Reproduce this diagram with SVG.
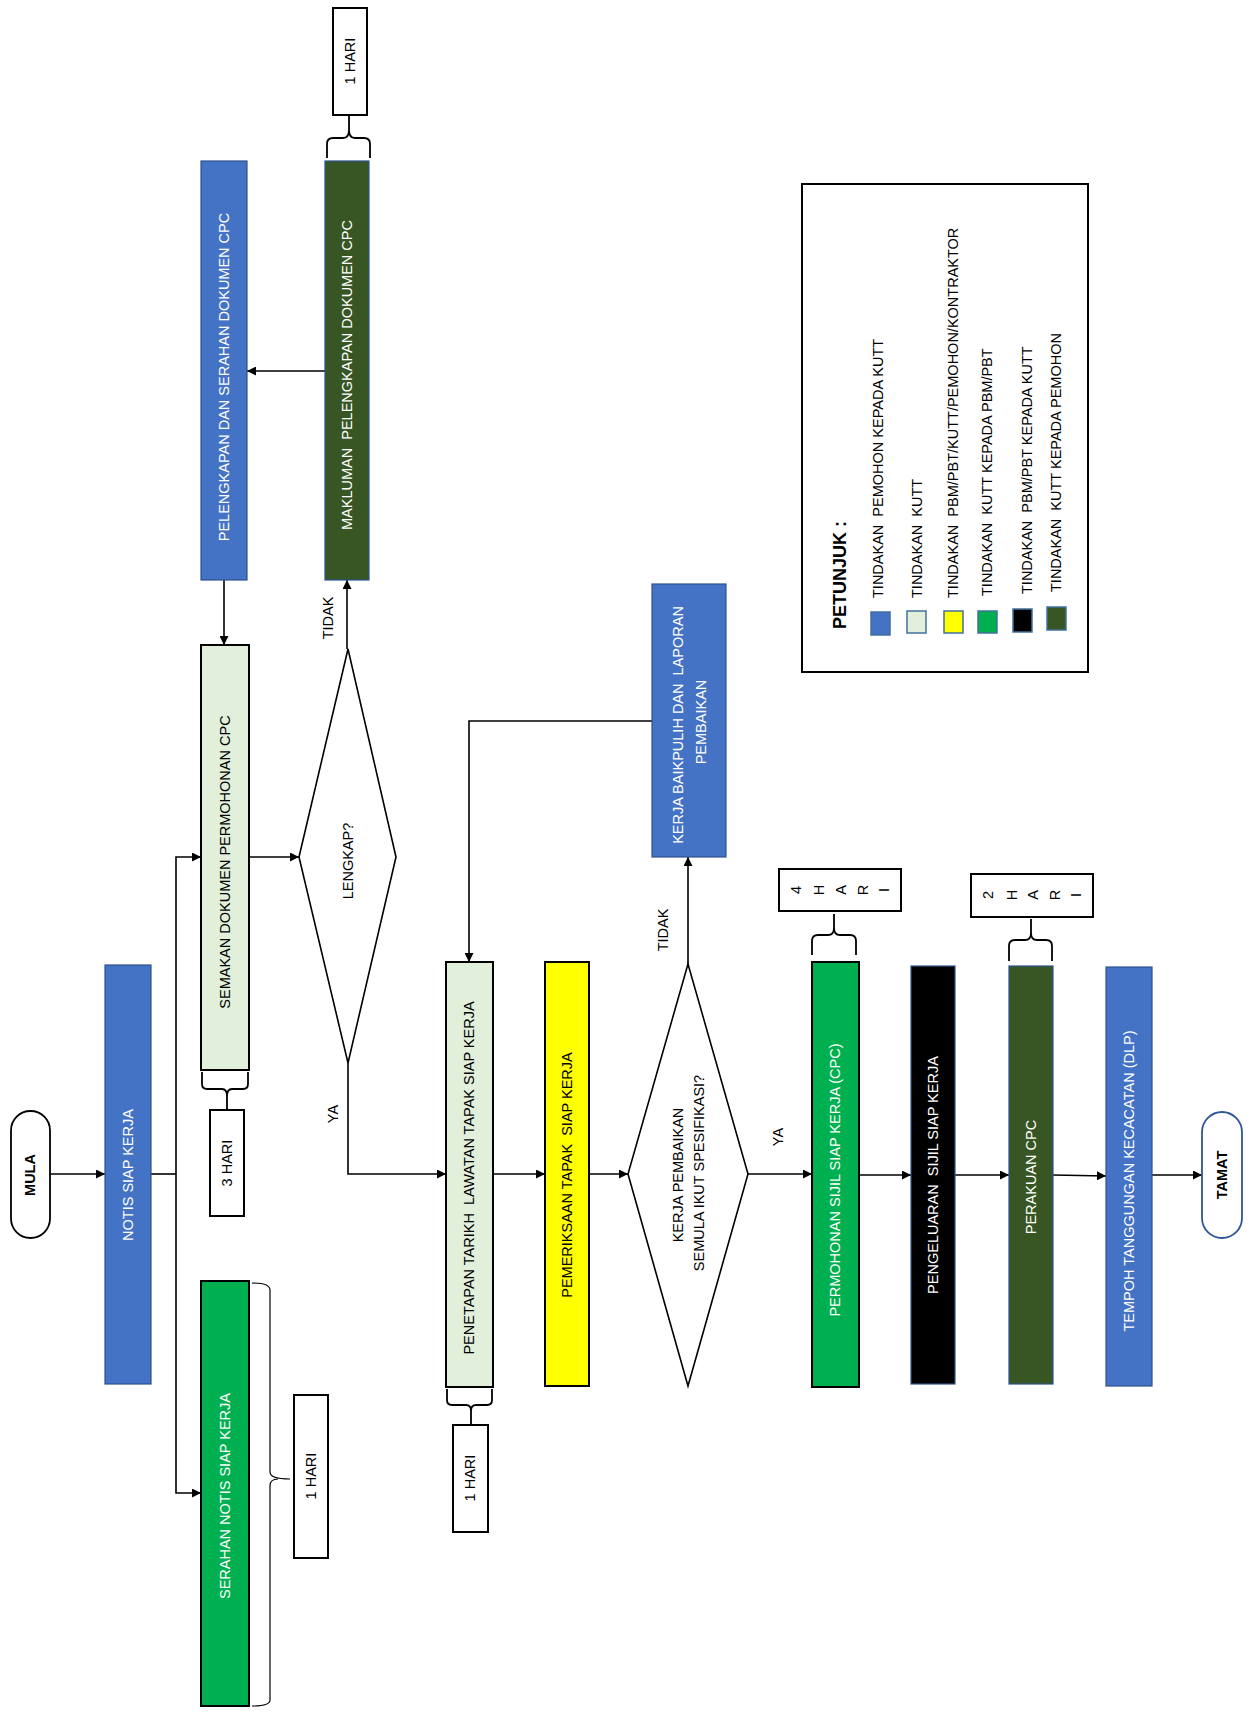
<svg xmlns="http://www.w3.org/2000/svg" width="1251" height="1716" viewBox="0 0 1251 1716">
<style>
text{font-family:"Liberation Sans",Arial,sans-serif;font-size:14.5px;white-space:pre;text-anchor:middle;dominant-baseline:central}
.w{fill:#ffffff}
.k{fill:#000000}
.b{font-weight:bold}
.blue{fill:#4472C4;stroke:#2F528F;stroke-width:1.2}
.dg{fill:#375623;stroke:#2F528F;stroke-width:1.2}
.blk{fill:#000000;stroke:#2F528F;stroke-width:1.2}
.lg{fill:#E2EFDA;stroke:#000;stroke-width:2}
.gr{fill:#00B050;stroke:#000;stroke-width:2}
.ye{fill:#FFFF00;stroke:#000;stroke-width:2}
.day{fill:#fff;stroke:#000;stroke-width:2}
.dia{fill:#fff;stroke:#000;stroke-width:1.6}
.br{fill:none;stroke:#000;stroke-width:1.8}
.cn{fill:none;stroke:#000;stroke-width:1.6}
.sw{stroke:#41719C;stroke-width:1.5}
</style>
<defs>
<marker id="ah" viewBox="0 0 10 10" refX="10" refY="5" markerWidth="10" markerHeight="9" markerUnits="userSpaceOnUse" orient="auto">
<path d="M0,0 L10,5 L0,10 z" fill="#000"/>
</marker>
</defs>

<g id="connectors">
<path class="cn" d="M50,1174 L105,1174" marker-end="url(#ah)"/>
<path class="cn" d="M151,1174 L176,1174"/>
<path class="cn" d="M176,1174 L176,857 L201,857" marker-end="url(#ah)"/>
<path class="cn" d="M176,1174 L176,1493 L201,1493" marker-end="url(#ah)"/>
<path class="cn" d="M249,857 L299,857" marker-end="url(#ah)"/>
<path class="cn" d="M347,649 L347,580" marker-end="url(#ah)"/>
<path class="cn" d="M325,371 L247,371" marker-end="url(#ah)"/>
<path class="cn" d="M224,580 L224,645" marker-end="url(#ah)"/>
<path class="cn" d="M348,1063 L348,1174 L446,1174" marker-end="url(#ah)"/>
<path class="cn" d="M493,1174 L545,1174" marker-end="url(#ah)"/>
<path class="cn" d="M589,1174 L628,1174" marker-end="url(#ah)"/>
<path class="cn" d="M688,964 L688,857" marker-end="url(#ah)"/>
<path class="cn" d="M652,721 L469,721 L469,962" marker-end="url(#ah)"/>
<path class="cn" d="M748,1174 L812,1174" marker-end="url(#ah)"/>
<path class="cn" d="M859,1175 L911,1175" marker-end="url(#ah)"/>
<path class="cn" d="M955,1175 L1009,1175" marker-end="url(#ah)"/>
<path class="cn" d="M1053,1175 L1106,1176" marker-end="url(#ah)"/>
<path class="cn" d="M1152,1175 L1202,1175" marker-end="url(#ah)"/>
<text class="k" x="328" y="618" transform="rotate(-90 328 618)">TIDAK</text>
<text class="k" x="333" y="1114" transform="rotate(-90 333 1114)">YA</text>
<text class="k" x="663" y="930" transform="rotate(-90 663 930)">TIDAK</text>
<text class="k" x="778" y="1137" transform="rotate(-90 778 1137)">YA</text>
</g>

<g id="mula">
<rect x="11" y="1111" width="39" height="127" rx="19.5" fill="#fff" stroke="#000" stroke-width="1.8"/>
<text class="k b" x="30" y="1175" transform="rotate(-90 30 1175)">MULA</text>
</g>

<g id="notis">
<rect class="blue" x="105" y="965" width="46" height="419"/>
<text class="w" x="128" y="1175" transform="rotate(-90 128 1175)">NOTIS SIAP KERJA</text>
</g>

<g id="semakan">
<rect class="lg" x="201" y="645" width="48" height="425"/>
<text class="k" x="225" y="862" transform="rotate(-90 225 862)">SEMAKAN DOKUMEN PERMOHONAN CPC</text>
<path class="br" d="M202,1072 L202,1084 Q202,1089 207,1089 L222,1089 Q227,1089 227,1096 L227,1110 M248,1072 L248,1084 Q248,1089 243,1089 L232,1089 Q227,1089 227,1096"/>
</g>

<g id="hari3">
<rect class="day" x="210" y="1110" width="34" height="106"/>
<text class="k" x="227" y="1163" transform="rotate(-90 227 1163)">3 HARI</text>
</g>

<g id="serahan">
<rect class="gr" x="201" y="1281" width="48" height="425"/>
<text class="w" x="225" y="1496" transform="rotate(-90 225 1496)">SERAHAN NOTIS SIAP KERJA</text>
<path fill="none" stroke="#000" stroke-width="1.2" d="M252,1283 Q270,1283 270,1290 L270,1472 Q270,1479 290,1479 M270,1486 Q270,1479 278,1479 M270,1486 L270,1700 Q270,1706 252,1706"/>
</g>

<g id="hari1a">
<rect class="day" x="294" y="1395" width="34" height="163"/>
<text class="k" x="311" y="1476" transform="rotate(-90 311 1476)">1 HARI</text>
</g>

<g id="lengkap">
<polygon class="dia" points="348,649 396,857 348,1063 299,857"/>
<text class="k" x="348" y="861" transform="rotate(-90 348 861)">LENGKAP?</text>
</g>

<g id="pelengkapan">
<rect class="blue" x="201" y="161" width="46" height="419"/>
<text class="w" x="224" y="377" transform="rotate(-90 224 377)">PELENGKAPAN DAN SERAHAN DOKUMEN CPC</text>
</g>

<g id="makluman">
<rect class="dg" x="325" y="161" width="44" height="419"/>
<text class="w" x="347" y="375" transform="rotate(-90 347 375)">MAKLUMAN  PELENGKAPAN DOKUMEN CPC</text>
<path class="br" d="M327,158 L327,144 Q327,138 333,138 L343,138 Q349,138 349,130 L349,116 M370,158 L370,144 Q370,138 364,138 L355,138 Q349,138 349,130"/>
</g>

<g id="hari1b">
<rect class="day" x="333" y="8" width="34" height="107"/>
<text class="k" x="350" y="61" transform="rotate(-90 350 61)">1 HARI</text>
</g>

<g id="penetapan">
<rect class="lg" x="446" y="962" width="47" height="425"/>
<text class="k" x="469" y="1178" transform="rotate(-90 469 1178)">PENETAPAN TARIKH  LAWATAN TAPAK SIAP KERJA</text>
<path class="br" d="M447,1389 L447,1400 Q447,1405 452,1405 L466,1405 Q471,1405 471,1411 L471,1425 M492,1389 L492,1400 Q492,1405 487,1405 L476,1405 Q471,1405 471,1411"/>
</g>

<g id="hari1c">
<rect class="day" x="453" y="1425" width="35" height="107"/>
<text class="k" x="470" y="1478" transform="rotate(-90 470 1478)">1 HARI</text>
</g>

<g id="pemeriksaan">
<rect class="ye" x="545" y="962" width="44" height="424"/>
<text class="k" x="567" y="1175" transform="rotate(-90 567 1175)">PEMERIKSAAN TAPAK  SIAP KERJA</text>
</g>

<g id="kerja-pembaikan">
<polygon class="dia" points="688,964 748,1174 688,1386 628,1174"/>
<text class="k" x="678" y="1175" transform="rotate(-90 678 1175)">KERJA PEMBAIKAN</text>
<text class="k" x="699" y="1173" transform="rotate(-90 699 1173)">SEMULA IKUT SPESIFIKASI?</text>
</g>

<g id="baikpulih">
<rect class="blue" x="652" y="584" width="74" height="273"/>
<text class="w" x="678" y="725" transform="rotate(-90 678 725)">KERJA BAIKPULIH DAN  LAPORAN</text>
<text class="w" x="701" y="722" transform="rotate(-90 701 722)">PEMBAIKAN</text>
</g>

<g id="permohonan">
<rect class="gr" x="812" y="962" width="47" height="425"/>
<text class="w" x="835" y="1180" transform="rotate(-90 835 1180)">PERMOHONAN SIJIL SIAP KERJA (CPC)</text>
<path class="br" d="M812,955 L812,941 Q812,935 818,935 L828,935 Q834,935 834,928 L834,914 M856,955 L856,941 Q856,935 850,935 L840,935 Q834,935 834,928"/>
</g>

<g id="hari4">
<rect class="day" x="779" y="869" width="122" height="42"/>
<text class="k" x="796" y="890" transform="rotate(-90 796 890)">4</text>
<text class="k" x="819" y="890" transform="rotate(-90 819 890)">H</text>
<text class="k" x="841" y="890" transform="rotate(-90 841 890)">A</text>
<text class="k" x="863" y="890" transform="rotate(-90 863 890)">R</text>
<text class="k" x="884" y="890" transform="rotate(-90 884 890)">I</text>
</g>

<g id="pengeluaran">
<rect class="blk" x="911" y="966" width="44" height="418"/>
<text class="w" x="933" y="1175" transform="rotate(-90 933 1175)">PENGELUARAN  SIJIL SIAP KERJA</text>
</g>

<g id="perakuan">
<rect class="dg" x="1009" y="966" width="44" height="418"/>
<text class="w" x="1031" y="1177" transform="rotate(-90 1031 1177)">PERAKUAN CPC</text>
<path class="br" d="M1009,961 L1009,946 Q1009,940 1015,940 L1025,940 Q1031,940 1031,933 L1031,919 M1052,961 L1052,946 Q1052,940 1046,940 L1037,940 Q1031,940 1031,933"/>
</g>

<g id="hari2">
<rect class="day" x="971" y="874" width="122" height="43"/>
<text class="k" x="988" y="895" transform="rotate(-90 988 895)">2</text>
<text class="k" x="1012" y="895" transform="rotate(-90 1012 895)">H</text>
<text class="k" x="1033" y="895" transform="rotate(-90 1033 895)">A</text>
<text class="k" x="1055" y="895" transform="rotate(-90 1055 895)">R</text>
<text class="k" x="1076" y="895" transform="rotate(-90 1076 895)">I</text>
</g>

<g id="tempoh">
<rect class="blue" x="1106" y="967" width="46" height="419"/>
<text class="w" x="1129" y="1181" transform="rotate(-90 1129 1181)">TEMPOH TANGGUNGAN KECACATAN (DLP)</text>
</g>

<g id="tamat">
<rect x="1202" y="1112" width="40" height="126" rx="20" fill="#fff" stroke="#2F5597" stroke-width="1.8"/>
<text class="k b" x="1222" y="1175" transform="rotate(-90 1222 1175)">TAMAT</text>
</g>

<g id="legend">
<rect x="802" y="184" width="286" height="488" fill="#fff" stroke="#000" stroke-width="2"/>
<text class="k b" x="840" y="575" style="font-size:18px" transform="rotate(-90 840 575)">PETUNJUK :</text>
<rect class="sw" x="871" y="612" width="19" height="23" fill="#4472C4"/>
<rect class="sw" x="907" y="611" width="19" height="22" fill="#E2EFDA"/>
<rect class="sw" x="944" y="611" width="19" height="22" fill="#FFFF00"/>
<rect class="sw" x="978" y="611" width="19" height="22" fill="#00B050"/>
<rect class="sw" x="1013" y="609" width="19" height="23" fill="#000000"/>
<rect class="sw" x="1047" y="607" width="19" height="23" fill="#375623"/>
<text class="k" x="878" y="598" style="text-anchor:start" transform="rotate(-90 878 598)">TINDAKAN  PEMOHON KEPADA KUTT</text>
<text class="k" x="917" y="598" style="text-anchor:start" transform="rotate(-90 917 598)">TINDAKAN  KUTT</text>
<text class="k" x="953" y="598" style="text-anchor:start" transform="rotate(-90 953 598)">TINDAKAN  PBM/PBT/KUTT/PEMOHON/KONTRAKTOR</text>
<text class="k" x="987" y="596" style="text-anchor:start" transform="rotate(-90 987 596)">TINDAKAN  KUTT KEPADA PBM/PBT</text>
<text class="k" x="1027" y="594" style="text-anchor:start" transform="rotate(-90 1027 594)">TINDAKAN  PBM/PBT KEPADA KUTT</text>
<text class="k" x="1056" y="592" style="text-anchor:start" transform="rotate(-90 1056 592)">TINDAKAN  KUTT KEPADA PEMOHON</text>
</g>
</svg>
